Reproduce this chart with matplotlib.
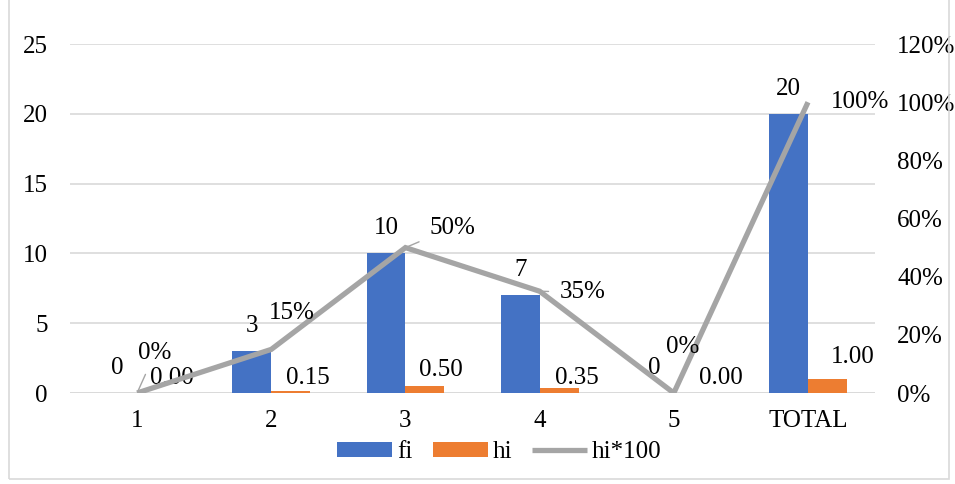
import matplotlib
matplotlib.use("Agg")
import matplotlib.pyplot as plt
from matplotlib.patches import Rectangle
import numpy as np

categories = ["1", "2", "3", "4", "5", "TOTAL"]
fi = [0, 3, 10, 7, 0, 20]
hi = [0.00, 0.15, 0.50, 0.35, 0.00, 1.00]
hi100 = [0.00, 0.15, 0.50, 0.35, 0.00, 1.00]

left_ticks = [0, 5, 10, 15, 20, 25]
right_ticks = [0, 0.2, 0.4, 0.6, 0.8, 1.0, 1.2]

BLUE = "#4472C4"
ORANGE = "#ED7D31"
GRAY = "#A5A5A5"
GRID = "#D9D9D9"

plt.rcParams["font.family"] = ["Liberation Serif", "DejaVu Serif"]
FS = 18

fig = plt.figure(figsize=(9.55, 4.84), dpi=100)
ax = fig.add_axes([0.0733, 0.188, 0.843, 0.721])
ax2 = ax.twinx()

x = np.arange(len(categories))
w = 0.29
b1 = ax.bar(x - w / 2, fi, w, color=BLUE, label="fi", zorder=2)
b2 = ax.bar(x + w / 2, hi, w, color=ORANGE, label="hi", zorder=2)
ln, = ax2.plot(x, hi100, color=GRAY, lw=3.8, solid_capstyle="butt",
               solid_joinstyle="miter", label="hi*100", zorder=3)

ax.set_xlim(-0.5, len(categories) - 0.5)
ax.set_ylim(0, 25)
ax2.set_ylim(0, 1.2)
ax.set_yticks(left_ticks)
ax.set_yticklabels([str(t) for t in left_ticks], fontsize=FS)
ax2.set_yticks(right_ticks)
ax2.set_yticklabels([f"{int(round(t*100))}%" for t in right_ticks], fontsize=FS)
ax.set_xticks(x)
ax.set_xticklabels(categories, fontsize=FS)

for a in (ax, ax2):
    for s in a.spines.values():
        s.set_visible(False)
    a.tick_params(length=0)
ax.tick_params(axis="y", pad=16)
ax2.tick_params(axis="y", pad=16)
ax.tick_params(axis="x", pad=12)
ax.yaxis.grid(True, color=GRID, lw=1.2, zorder=0)
ax.set_axisbelow(True)
ax.axhline(0, color=GRID, lw=1.2, zorder=1)
ax.patch.set_visible(False)

# fi labels
for i, v in enumerate(fi):
    ax.annotate(str(v), xy=(x[i] - w / 2, v), xytext=(0, 25),
                textcoords="offset pixels", ha="center", va="center", fontsize=FS)

# hi labels (manually shifted as in reference)
hi_off = [(15, 15), (17, 13), (16, 16), (18, 10), (28, 15), (25, 22)]
for i, v in enumerate(hi):
    ax.annotate(f"{v:.2f}", xy=(x[i] + w / 2, v), xytext=hi_off[i],
                textcoords="offset pixels", ha="center", va="center", fontsize=FS)

# line labels
ln_off = [(18, 40), (21, 36), (47, 20), (43, -1), (9, 46), (52, 0)]
leader = [True, False, True, True, False, False]
for i, v in enumerate(hi100):
    kw = {}
    if leader[i]:
        kw["arrowprops"] = dict(arrowstyle="-", color=GRAY, lw=1, shrinkA=6, shrinkB=2)
    ax2.annotate(f"{int(round(v*100))}%", xy=(x[i], v), xytext=ln_off[i],
                 textcoords="offset pixels", ha="center", va="center",
                 fontsize=FS, zorder=4, **kw)

handles = [b1, b2, ln]
fig.legend(handles, ["fi", "hi", "hi*100"], loc="center", bbox_to_anchor=(0.523, 0.066),
           ncol=3, frameon=False, fontsize=FS, handlelength=2.2, handleheight=0.55,
           columnspacing=0.8, handletextpad=0.2)

fig.patches.append(Rectangle((0.009, 0.01), 0.985, 1.2, transform=fig.transFigure,
                             fill=False, edgecolor="#D9D9D9", lw=1.2))

fig.savefig("out.png", dpi=100)
